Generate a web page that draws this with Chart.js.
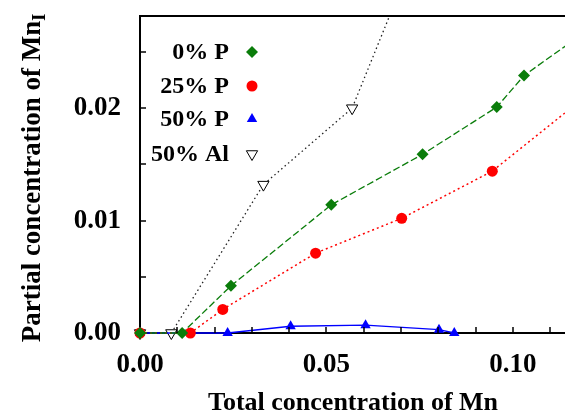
<!DOCTYPE html>
<html>
<head>
<meta charset="utf-8">
<script src="https://cdn.jsdelivr.net/npm/chart.js@4.4.1/dist/chart.umd.min.js"></script>
<style>
  body { margin: 0; background: #fff; }
  #wrap { width: 565px; height: 415px; position: relative; }
</style>
</head>
<body>
<div id="wrap"><canvas id="mnChart"></canvas></div>
<script>
// series (x = total Mn, y = partial Mn_I)
var seriesNames = ['0% P', '25% P', '50% P', '50% Al']

var p0X = [0, 0.0113, 0.0244, 0.0513, 0.0758, 0.0957, 0.1030, 0.1250]
var p0Y = [0, 0, 0.0042, 0.0114, 0.0159, 0.0201, 0.0229, 0.0281]

var p25X = [0, 0.0135, 0.0222, 0.0471, 0.0702, 0.0945, 0.1250]
var p25Y = [0, 0, 0.0021, 0.0071, 0.0102, 0.0144, 0.0225]

var p50X = [0, 0.0235, 0.0404, 0.0605, 0.0802, 0.0843]
var p50Y = [0, 0, 0.0006, 0.0007, 0.0003, 0]

var al50X = [0, 0.0084, 0.0331, 0.0569, 0.0750]
var al50Y = [0, 0, 0.0132, 0.0200, 0.0348]

var xTickLabels = ['0.00', '0.05', '0.10']
var yTickLabels = ['0.00', '0.01', '0.02']

var serif = '"Liberation Serif", "Times New Roman", serif'

function pts(xs, ys) {
    return xs.map(function (x, i) { return { x: x, y: ys[i] } })
}

var clipArea = { left: 10, top: 0, right: 0, bottom: 10 }

var datasets = [
    {
        label: seriesNames[0],
        data: pts(p0X, p0Y),
        borderColor: '#0a7d0a',
        backgroundColor: '#0a7d0a',
        borderWidth: 1.3,
        borderDash: [7, 3],
        pointStyle: 'rectRot',
        pointRadius: 6,
        pointBorderWidth: 0
    },
    {
        label: seriesNames[1],
        data: pts(p25X, p25Y),
        borderColor: '#ff0000',
        backgroundColor: '#ff0000',
        borderWidth: 1.5,
        borderDash: [2, 3],
        pointStyle: 'circle',
        pointRadius: 5.5,
        pointBorderWidth: 0
    },
    {
        label: seriesNames[2],
        data: pts(p50X, p50Y),
        borderColor: '#0000ff',
        backgroundColor: '#0000ff',
        borderWidth: 1.3,
        pointStyle: 'triangle',
        pointRadius: 6,
        pointBorderWidth: 0
    },
    {
        label: seriesNames[3],
        data: pts(al50X, al50Y),
        borderColor: '#222222',
        backgroundColor: '#ffffff',
        borderWidth: 1.3,
        borderDash: [1.5, 3],
        pointStyle: 'triangle',
        pointRotation: 180,
        pointRadius: 6.5,
        pointBorderWidth: 1,
        pointBorderColor: '#000'
    }
]
datasets.forEach(function (ds) {
    ds.showLine = true
    ds.tension = 0
    ds.clip = clipArea
    ds.pointHoverRadius = ds.pointRadius
})

function onStep(v, step) {
    return Math.abs(v / step - Math.round(v / step)) < 1e-6
}

// inward tick marks, top frame line, axis titles and the legend
var decorations = {
    id: 'decorations',
    afterDraw: function (chart) {
        var ctx = chart.ctx
        var a = chart.chartArea
        var xs = chart.scales.x
        var ys = chart.scales.y
        ctx.save()
        ctx.strokeStyle = '#000'
        ctx.lineWidth = 2
        ctx.beginPath()
        ctx.moveTo(a.left - 1, a.top)
        ctx.lineTo(a.right, a.top)
        ctx.stroke()

        ctx.lineWidth = 1.5
        xs.ticks.forEach(function (t) {
            if (t.value <= 0) return
            var px = Math.round(xs.getPixelForValue(t.value))
            ctx.beginPath()
            ctx.moveTo(px, a.bottom)
            ctx.lineTo(px, a.bottom - 6)
            ctx.stroke()
        })
        ys.ticks.forEach(function (t) {
            if (t.value <= 0) return
            var py = Math.round(ys.getPixelForValue(t.value))
            ctx.beginPath()
            ctx.moveTo(a.left, py)
            ctx.lineTo(a.left + 6, py)
            ctx.stroke()
        })

        // x title
        ctx.fillStyle = '#000'
        ctx.font = 'bold 26px ' + serif
        ctx.textAlign = 'center'
        ctx.textBaseline = 'alphabetic'
        ctx.fillText('Total concentration of Mn', 353, 410)

        // y title with subscript
        var main = 'Partial concentration of Mn'
        ctx.font = 'bold 27px ' + serif
        var w1 = ctx.measureText(main).width
        ctx.font = 'bold 18px ' + serif
        var w2 = ctx.measureText('I').width
        ctx.translate(40, 178)
        ctx.rotate(-Math.PI / 2)
        ctx.textAlign = 'left'
        ctx.font = 'bold 27px ' + serif
        ctx.fillText(main, -(w1 + w2) / 2, 0)
        ctx.font = 'bold 18px ' + serif
        ctx.fillText('I', -(w1 + w2) / 2 + w1, 5)
        ctx.restore()

        // legend: right-aligned text, marker to the right
        ctx.save()
        ctx.font = 'bold 24px ' + serif
        ctx.textAlign = 'right'
        ctx.textBaseline = 'middle'
        ctx.fillStyle = '#000'
        var rowY = [52, 86, 119, 154]
        chart.data.datasets.forEach(function (ds, i) {
            ctx.fillText(ds.label, 229, rowY[i] + 1)
            ctx.fillStyle = ds.backgroundColor
            ctx.strokeStyle = ds.pointBorderColor || ds.borderColor
            ctx.lineWidth = ds.pointBorderWidth
            Chart.helpers.drawPoint(ctx, {
                pointStyle: ds.pointStyle,
                rotation: ds.pointRotation || 0,
                radius: ds.pointRadius,
                borderWidth: ds.pointBorderWidth
            }, 252, rowY[i])
            ctx.fillStyle = '#000'
        })
        ctx.restore()
    }
}

var mnChart = new Chart(document.querySelector('#mnChart'), {
    type: 'scatter',
    data: { datasets: datasets },
    options: {
        responsive: true,
        maintainAspectRatio: false,
        animation: false,
        layout: { autoPadding: false, padding: { top: 16, right: 0, left: 0, bottom: 0 } },
        plugins: {
            legend: { display: false },
            tooltip: { enabled: false }
        },
        scales: {
            x: {
                type: 'linear',
                min: 0,
                max: 0.114,
                afterFit: function (scale) {
                    scale.height = 82
                    scale.paddingLeft = 0
                    scale.paddingRight = 0
                },
                grid: { display: false },
                border: { display: true, color: '#000', width: 2 },
                ticks: {
                    stepSize: 0.01,
                    includeBounds: false,
                    autoSkip: false,
                    maxRotation: 0,
                    padding: 8,
                    color: '#000',
                    font: { family: serif, size: 27, weight: 'bold' },
                    callback: function (v) {
                        if (!onStep(v, 0.05)) return ''
                        return xTickLabels[Math.round(v / 0.05)]
                    }
                }
            },
            y: {
                type: 'linear',
                min: 0,
                max: 0.0282,
                afterFit: function (scale) {
                    scale.width = 140
                    scale.paddingTop = 0
                    scale.paddingBottom = 0
                },
                grid: { display: false },
                border: { display: true, color: '#000', width: 2 },
                ticks: {
                    stepSize: 0.005,
                    includeBounds: false,
                    autoSkip: false,
                    padding: 11,
                    color: '#000',
                    font: { family: serif, size: 27, weight: 'bold' },
                    callback: function (v) {
                        if (!onStep(v, 0.01)) return ''
                        return yTickLabels[Math.round(v / 0.01)]
                    }
                }
            }
        }
    },
    plugins: [decorations]
})
</script>
</body>
</html>
